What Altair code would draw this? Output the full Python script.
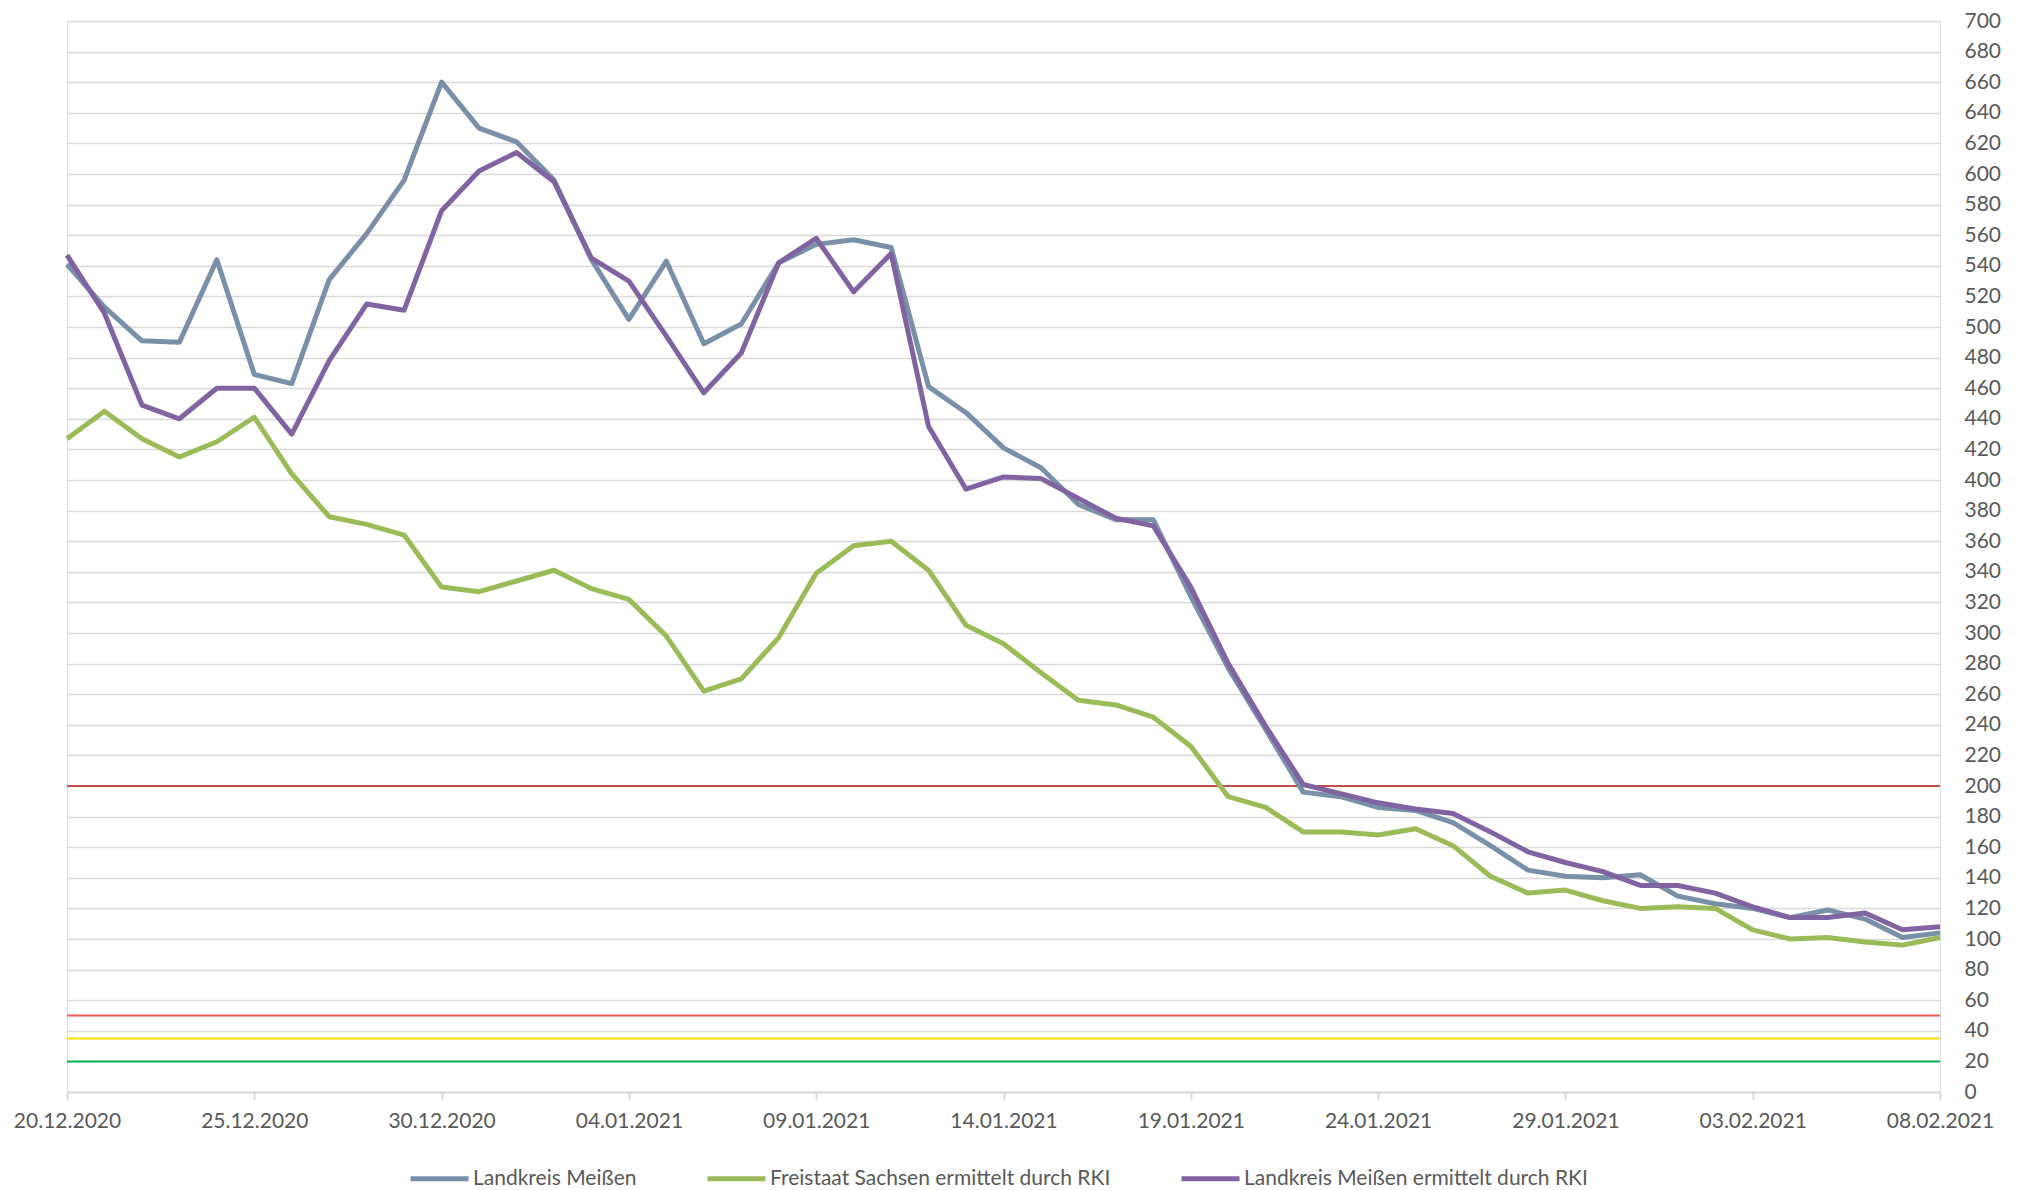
import altair as alt
import pandas as pd

# ---- data ----
dates = pd.date_range("2020-12-20", "2021-02-08", freq="D").strftime("%Y-%m-%d").tolist()

series_names = [
    "Landkreis Meißen",
    "Freistaat Sachsen ermittelt durch RKI",
    "Landkreis Meißen ermittelt durch RKI",
]
series_colors = ["#7A8FA8", "#9BBB59", "#8064A2"]

meissen = [541, 513, 491, 490, 544, 469, 463, 531, 561, 596,
           660, 630, 621, 596, 544, 505, 543, 489, 502, 542,
           554, 557, 552, 461, 444, 421, 408, 384, 374, 374,
           324, 277, 237, 196, 193, 186, 184, 176, 161, 145,
           141, 140, 142, 128, 123, 120, 114, 119, 113, 101,
           104]
sachsen_rki = [427, 445, 427, 415, 425, 441, 404, 376, 371, 364,
               330, 327, 334, 341, 329, 322, 298, 262, 270, 297,
               339, 357, 360, 341, 305, 293, 274, 256, 253, 245,
               226, 193, 186, 170, 170, 168, 172, 161, 141, 130,
               132, 125, 120, 121, 120, 106, 100, 101, 98, 96,
               101]
meissen_rki = [547, 509, 449, 440, 460, 460, 430, 478, 515, 511,
               576, 602, 614, 595, 545, 530, 494, 457, 483, 542,
               558, 523, 548, 435, 394, 402, 401, 388, 375, 370,
               330, 280, 239, 201, 195, 189, 185, 182, 170, 157,
               150, 144, 135, 135, 130, 121, 114, 114, 117, 106,
               108]

tick_labels = ["20.12.2020", "25.12.2020", "30.12.2020", "04.01.2021",
               "09.01.2021", "14.01.2021", "19.01.2021", "24.01.2021",
               "29.01.2021", "03.02.2021", "08.02.2021"]
y_ticks = list(range(0, 701, 20))

thresholds = [200, 50, 35, 20]
threshold_colors = ["#C0504D", "#F0585C", "#FFE000", "#00B050"]

# ---- tables ----
rows = []
for name, vals in zip(series_names, [meissen, sachsen_rki, meissen_rki]):
    for d, v in zip(dates, vals):
        rows.append({"date": d, "value": v, "series": name})
df = pd.DataFrame(rows)


def to_dt(s):
    d, m, y = s.split(".")
    return alt.DateTime(year=int(y), month=int(m), date=int(d), utc=True)


tick_values = [to_dt(s) for s in tick_labels]
FONT = "Lato"
GRAY = "#595959"

x_enc = alt.X(
    "date:T",
    scale=alt.Scale(type="utc", domain=[tick_values[0], tick_values[-1]]),
    axis=alt.Axis(
        values=tick_values, labelExpr="utcFormat(datum.value, '%d.%m.%Y')",
        title=None, grid=False, domainColor="#D9D9D9", domainWidth=2,
        tickColor="#D9D9D9", tickWidth=2, tickSize=8,
        labelFont=FONT, labelFontSize=21, labelColor=GRAY, labelPadding=10,
        labelFlush=False, labelOverlap=False,
    ),
)
y_enc = alt.Y(
    "value:Q",
    scale=alt.Scale(domain=[0, 700], nice=False),
    axis=alt.Axis(
        orient="right", values=y_ticks, title=None, grid=True,
        gridColor="#D9D9D9", gridWidth=1.5, domain=False, ticks=False,
        labelFont=FONT, labelFontSize=21, labelColor=GRAY, labelPadding=24,
        labelOverlap=False, labelFlush=False,
    ),
)

lines = alt.Chart(df).mark_line(strokeWidth=5, strokeJoin="round").encode(
    x=x_enc,
    y=y_enc,
    color=alt.Color(
        "series:N",
        scale=alt.Scale(domain=series_names, range=series_colors),
        sort=series_names,
        legend=alt.Legend(
            orient="none", legendX=341, legendY=1126, direction="horizontal",
            title=None, symbolType="stroke", symbolSize=3364,
            symbolStrokeWidth=5, labelFont=FONT, labelFontSize=21,
            labelColor=GRAY, labelOffset=2, columnPadding=60, labelLimit=600,
        ),
    ),
)

ref_layers = []
for t, c in zip(thresholds, threshold_colors):
    ref_layers.append(
        alt.Chart(pd.DataFrame({"value": [t]})).mark_rule(strokeWidth=2, color=c).encode(
            y=y_enc
        )
    )

chart = alt.layer(*ref_layers, lines).properties(
    width=1873, height=1071,
    padding={"left": 59, "top": 13, "right": 70, "bottom": 96},
    autosize=alt.AutoSizeParams(type="none"),
).configure_view(stroke=None).configure(background="white")

chart.save("out.html", embed_options={"renderer": "svg", "actions": False})
